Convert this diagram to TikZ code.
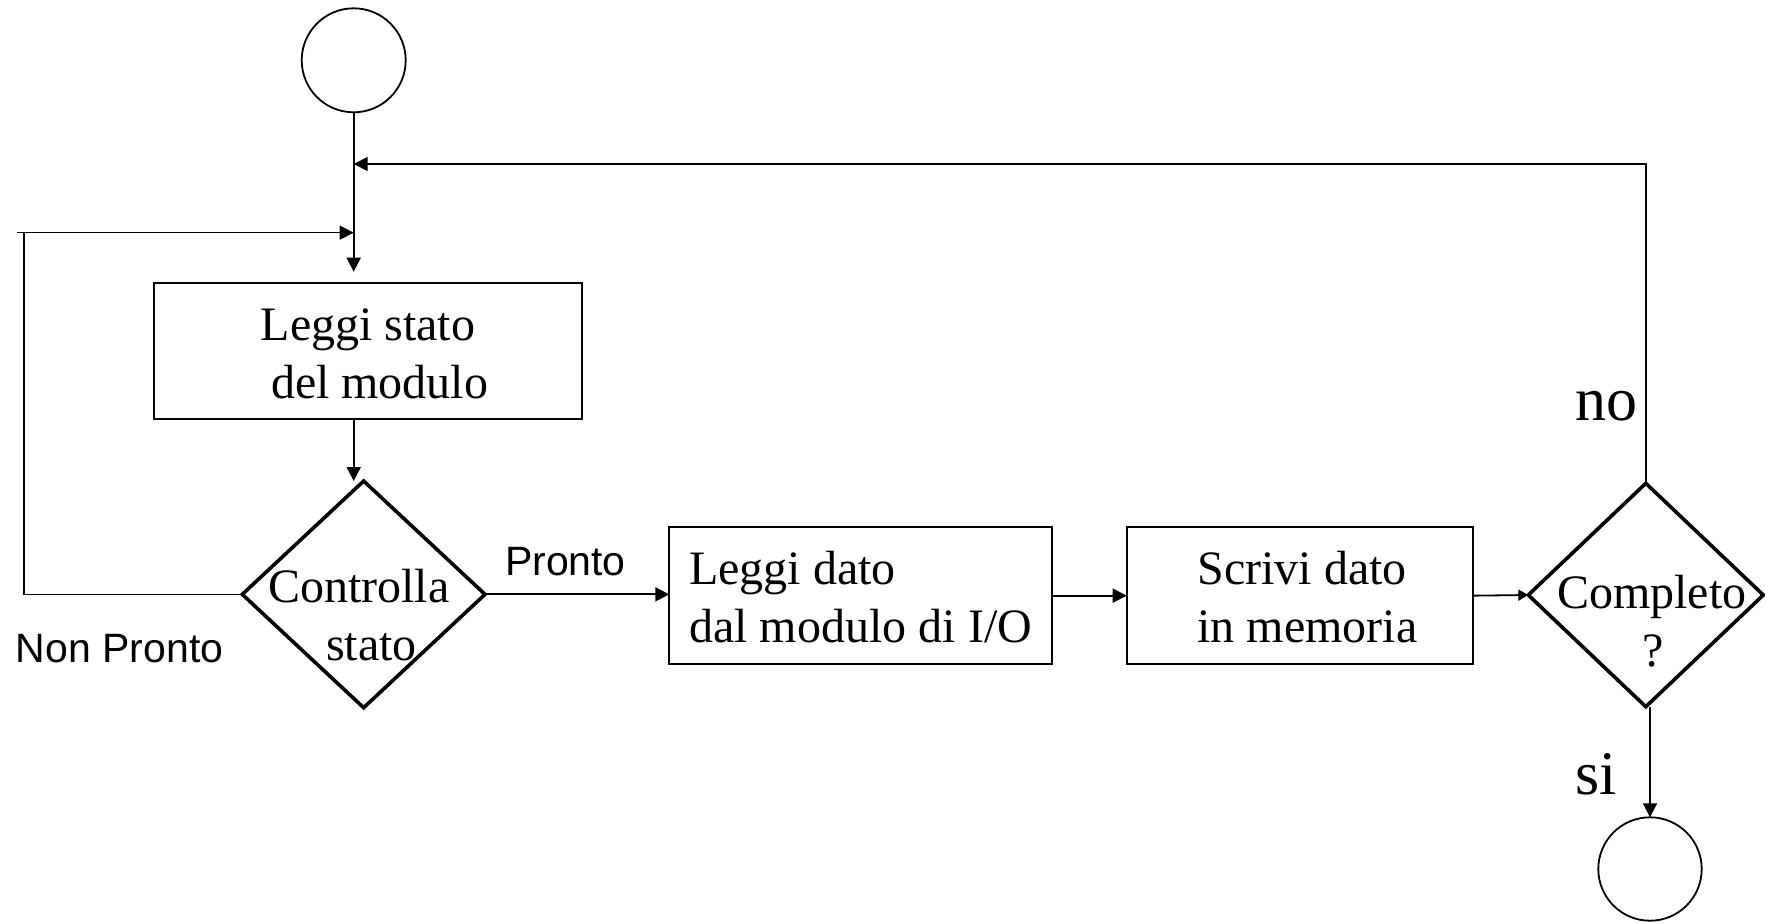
\documentclass[tikz,border=0pt]{standalone}
\usepackage{fontspec}
\setmainfont{Liberation Serif}
\newfontfamily\arialfont{Liberation Sans}
\usetikzlibrary{shapes.geometric,arrows.meta}
% a block of rows whose first baseline sits #1 above the node centre
\newcommand\textrows[3]{\raisebox{#1}[0pt][0pt]{\begin{tabular}[t]{@{}#2@{}}#3\end{tabular}}}

\begin{document}
\begin{tikzpicture}[x=1pt,y=-1pt,
  every node/.style={outer sep=0pt, inner sep=0pt},
  body/.style={font=\fontsize{48}{58}\selectfont},
  terminal/.style={draw, circle, line width=1.8pt, minimum size=#1},
  process/.style={draw, rectangle, line width=1.8pt, body},
  decision/.style={draw, diamond, line width=3.6pt, body},
  sanslabel/.style={font=\arialfont\fontsize{41}{49}\selectfont},
  bigword/.style={font=\fontsize{62}{74}\selectfont},
  tip/.style={-{Triangle[length=14pt,width=14pt]}},
  smalltip/.style={-{Triangle[length=10pt,width=11pt]}},
  flow/.style={line width=1.8pt, tip},
  loopline/.style={line width=1.4pt}
]
\useasboundingbox (0,0) rectangle (1765,922);

% start and end terminals
\node[terminal=104pt] (tp) at (353.7,60.3) {};
\node[terminal=103.4pt] (fin) at (1650,869) {};

% processing steps
\node[process, minimum width=427.4pt, minimum height=136.3pt] (b1) at (368,350.85)
  {\textrows{10.85pt}{c}{Leggi stato\\\kern23.4pt del modulo}};
\node[process, minimum width=382.7pt, minimum height=136.7pt] (b2) at (860.65,595.65)
  {\textrows{11.65pt}{l}{Leggi dato\\dal modulo di I/O}};
\node[process, minimum width=346.6pt, minimum height=136.7pt] (b3) at (1300,595.65)
  {\textrows{11.65pt}{l}{\kern14.6pt Scrivi dato\\\kern14.6pt in memoria}};

% decisions
\node[decision, minimum width=242.7pt, minimum height=226.7pt] (d1) at (363.65,594.35)
  {\textrows{-8.4pt}{c}{Controlla\kern9.4pt\\\kern15.6pt stato}};
\node[decision, minimum width=235pt, minimum height=223.4pt] (d2) at (1645.8,595)
  {\textrows{-13.3pt}{c}{\kern12pt Completo\\\kern15.4pt ?}};

% branch labels
\node[sanslabel, anchor=base west] (lpronto) at (505,575) {Pronto};
\node[sanslabel, anchor=base west] (lnonpronto) at (16,662.3) {Non Pronto};
\node[bigword, anchor=base east] (lno) at (1637,420.7) {no};
\node[bigword, anchor=base] (lsi) at (1596,794.3) {si};

% junction points on the main vertical line and the left loop corner
\coordinate (jr) at (353.7,164);
\coordinate (jl) at (353.7,232.7);
\coordinate (lc) at (24,232.7);
\coordinate (ls) at (17,232.7);

% main flow
\draw[flow, shorten >=11pt] (tp.south) -- (tp.south |- b1.north);
\draw[flow] (tp |- b1.south) -- (tp |- d1.north);
\draw[flow] (d1.east) -- (d1.east -| b2.west);
\draw[flow] (b2.east) -- (b3.west);
\draw[line width=1.8pt, smalltip] (b3.east) -- (d2.west);
\draw[flow] (d2.south -| fin) -- (fin.north);

% loops back to the top
\draw[loopline, tip] (d2.north) |- (jr);
\draw[loopline] (d1.west) -| (lc);
\draw[loopline, tip] (ls) -- (jl);
\end{tikzpicture}
\end{document}
